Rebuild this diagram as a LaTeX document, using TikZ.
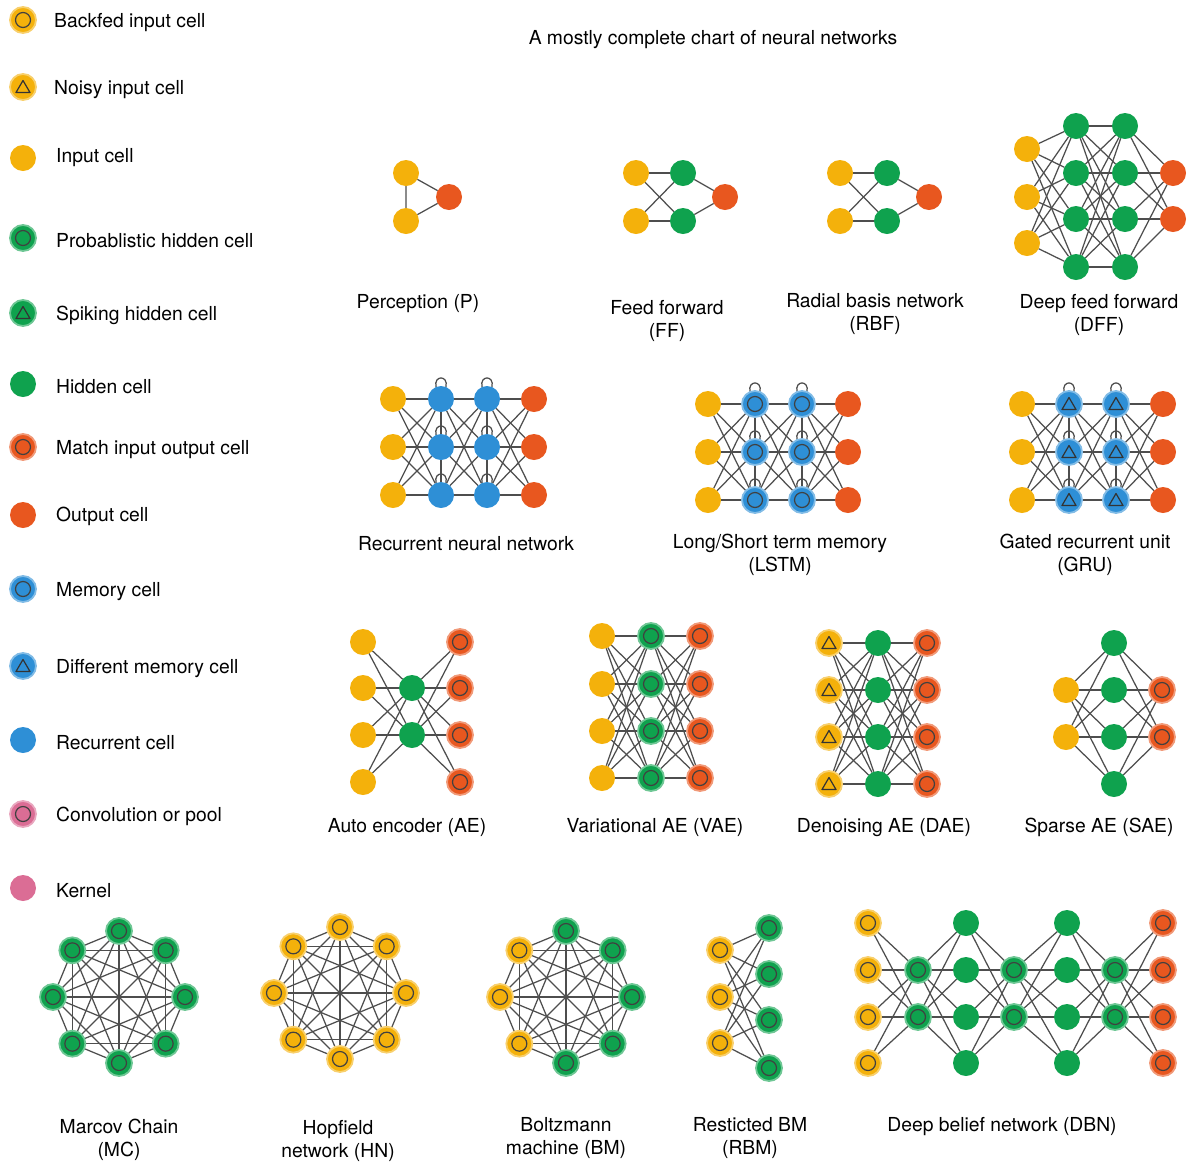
\documentclass[tikz,border=0pt]{standalone}
\usepackage{fontspec}
\setmainfont{TeX Gyre Heros}
\usetikzlibrary{backgrounds}
\definecolor{cyel}{HTML}{F4B10B}
\definecolor{cgrn}{HTML}{0FA24E}
\definecolor{cred}{HTML}{E8571F}
\definecolor{cblu}{HTML}{2E8FD6}
\definecolor{cpnk}{HTML}{DB6D95}
\definecolor{cedge}{HTML}{4E4E4E}
\tikzset{
  cell/.style={circle, minimum size=26pt, inner sep=0pt, outer sep=0pt},
  inp/.style={cell, fill=cyel},
  hid/.style={cell, fill=cgrn},
  outc/.style={cell, fill=cred},
  rec/.style={cell, fill=cblu},
  kern/.style={cell, fill=cpnk},
  halo/.style={draw=#1!60!white, line width=1.8pt},
  ringmark/.style={path picture={\draw[black!75, line width=1.2pt] (path picture bounding box.center) circle (7.5pt);}},
  trimark/.style={path picture={\draw[black!80, line width=1.2pt, line join=round, shift={(path picture bounding box.center)}] (0pt,6.5pt) -- (-7pt,-5.5pt) -- (7pt,-5.5pt) -- cycle;}},
  backfed/.style={inp, halo=cyel, ringmark},
  noisy/.style={inp, halo=cyel, trimark},
  prob/.style={hid, halo=cgrn, ringmark},
  spike/.style={hid, halo=cgrn, trimark},
  match/.style={outc, halo=cred, ringmark},
  mem/.style={rec, halo=cblu, ringmark},
  dmem/.style={rec, halo=cblu, trimark},
  conv/.style={kern, halo=cpnk, ringmark},
  link/.style={draw=cedge, line width=1.25pt},
  lbl/.style={font=\fontsize{19.3}{23}\selectfont, align=center, inner sep=0pt, yshift=-2.5pt},
  legtext/.style={font=\fontsize{19.3}{23}\selectfont, anchor=west, inner sep=0pt, yshift=-2.5pt},
}
\begin{document}
\begin{tikzpicture}[x=1pt,y=1pt]
\useasboundingbox (0,0) rectangle (1187,-1163);

% ---------- legend ----------
\node[backfed] (lg1) at (23,-20) {};
\node[noisy]   (lg2) at (23,-87) {};
\node[inp]     (lg3) at (23,-158) {};
\node[prob]    (lg4) at (23,-238) {};
\node[spike]   (lg5) at (23,-313) {};
\node[hid]     (lg6) at (23,-384) {};
\node[match]   (lg7) at (23,-447) {};
\node[outc]    (lg8) at (23,-515) {};
\node[mem]     (lg9) at (23,-589) {};
\node[dmem]    (lg10) at (23,-666) {};
\node[rec]     (lg11) at (23,-740) {};
\node[conv]    (lg12) at (23,-814) {};
\node[kern]    (lg13) at (23,-888) {};
\node[legtext] (lt1) at (54,-20) {Backfed input cell};
\node[legtext] (lt2) at (54,-87) {Noisy input cell};
\node[legtext] (lt3) at (56,-155) {Input cell};
\node[legtext] (lt4) at (56,-238) {Probablistic hidden cell};
\node[legtext] (lt5) at (56,-313) {Spiking hidden cell};
\node[legtext] (lt6) at (56,-384) {Hidden cell};
\node[legtext] (lt7) at (56,-447) {Match input output cell};
\node[legtext] (lt8) at (56,-514) {Output cell};
\node[legtext] (lt9) at (56,-589) {Memory cell};
\node[legtext] (lt10) at (56,-666) {Different memory cell};
\node[legtext] (lt11) at (56,-740) {Recurrent cell};
\node[legtext] (lt12) at (56,-814) {Convolution or pool};
\node[legtext] (lt13) at (56,-888) {Kernel};

\node[lbl] (title) at (713,-37) {A mostly complete chart of neural networks};

% ---------- perceptron ----------
\node[inp] (p1) at (406,-173) {};
\node[inp] (p2) at (406,-221) {};
\node[outc] (p3) at (449,-197) {};
\node[lbl] (pl) at (418,-301) {Perception (P)};

% ---------- feed forward ----------
\foreach \r/\y in {1/173,2/221}{
  \node[inp] (ffA\r) at (636,-\y) {};
  \node[hid] (ffB\r) at (683,-\y) {};
  \node[inp] (rbA\r) at (840,-\y) {};
  \node[hid] (rbB\r) at (887,-\y) {};
}
\node[outc] (ffC) at (725,-197) {};
\node[outc] (rbC) at (929,-197) {};
\node[lbl] (ffl) at (667,-318) {Feed forward\\(FF)};
\node[lbl] (rbl) at (875,-312) {Radial basis network\\(RBF)};

% ---------- deep feed forward ----------
\foreach \r/\y in {1/149,2/197,3/243}{ \node[inp] (dfA\r) at (1027,-\y) {}; }
\foreach \r/\y in {1/126,2/173,3/219,4/267}{
  \node[hid] (dfB\r) at (1076,-\y) {};
  \node[hid] (dfC\r) at (1125,-\y) {};
}
\foreach \r/\y in {1/173,2/219}{ \node[outc] (dfD\r) at (1173,-\y) {}; }
\node[lbl] (dfl) at (1099,-312) {Deep feed forward\\(DFF)};

% ---------- recurrent family ----------
\foreach \r/\y in {1/399,2/447,3/495}{
  \node[inp] (rnA\r) at (393,-\y) {};
  \node[rec] (rnB\r) at (441,-\y) {};
  \node[rec] (rnC\r) at (487,-\y) {};
  \node[outc] (rnD\r) at (534,-\y) {};
}
\foreach \r/\y in {1/404,2/452,3/500}{
  \node[inp] (lsA\r) at (708,-\y) {};
  \node[mem] (lsB\r) at (755,-\y) {};
  \node[mem] (lsC\r) at (802,-\y) {};
  \node[outc] (lsD\r) at (848,-\y) {};
  \node[inp] (grA\r) at (1022,-\y) {};
  \node[dmem] (grB\r) at (1069,-\y) {};
  \node[dmem] (grC\r) at (1116,-\y) {};
  \node[outc] (grD\r) at (1163,-\y) {};
}
\node[lbl] (rnl) at (466,-541) {Recurrent neural network};
\node[lbl] (lsl) at (780,-552) {Long/Short term memory\\(LSTM)};
\node[lbl] (grl) at (1085,-552) {Gated recurrent unit\\(GRU)};

% ---------- auto encoders ----------
\foreach \r/\y in {1/642,2/688,3/735,4/782}{
  \node[inp] (aeA\r) at (363,-\y) {};
  \node[match] (aeC\r) at (460,-\y) {};
}
\foreach \r/\y in {1/688,2/735}{ \node[hid] (aeB\r) at (412,-\y) {}; }
\foreach \r/\y in {1/636,2/684,3/731,4/778}{
  \node[inp] (vaA\r) at (602,-\y) {};
  \node[prob] (vaB\r) at (651,-\y) {};
  \node[match] (vaC\r) at (700,-\y) {};
}
\foreach \r/\y in {1/643,2/690,3/737,4/784}{
  \node[noisy] (daA\r) at (829,-\y) {};
  \node[hid] (daB\r) at (878,-\y) {};
  \node[match] (daC\r) at (927,-\y) {};
  \node[hid] (saB\r) at (1114,-\y) {};
}
\foreach \r/\y in {1/690,2/737}{
  \node[inp] (saA\r) at (1066,-\y) {};
  \node[match] (saC\r) at (1162,-\y) {};
}
\node[lbl] (ael) at (407,-825) {Auto encoder (AE)};
\node[lbl] (val) at (655,-825) {Variational AE (VAE)};
\node[lbl] (dal) at (884,-825) {Denoising AE (DAE)};
\node[lbl] (sal) at (1099,-825) {Sparse AE (SAE)};

% ---------- fully connected rings ----------
\begin{scope}[shift={(119,-997)}]
  \foreach \k in {0,...,7}{ \node[prob] (mc\k) at (90-\k*45:66) {}; }
\end{scope}
\begin{scope}[shift={(340,-993)}]
  \foreach \k in {0,...,7}{ \node[backfed] (hn\k) at (90-\k*45:66) {}; }
\end{scope}
\begin{scope}[shift={(566,-997)}]
  \foreach \k in {0,...,4}{ \node[prob] (bm\k) at (90-\k*45:66) {}; }
  \foreach \k in {5,6,7}{ \node[backfed] (bm\k) at (90-\k*45:66) {}; }
\end{scope}
\node[lbl] (mcl) at (119,-1137) {Marcov Chain\\(MC)};
\node[lbl] (hnl) at (338,-1138) {Hopfield\\network (HN)};
\node[lbl] (bml) at (566,-1135) {Boltzmann\\machine (BM)};

% ---------- restricted Boltzmann machine ----------
\foreach \r/\y in {1/950,2/997,3/1043}{ \node[backfed] (rbmA\r) at (720,-\y) {}; }
\foreach \r/\y in {1/928,2/974,3/1020,4/1068}{ \node[prob] (rbmB\r) at (769,-\y) {}; }
\node[lbl] (rbml) at (750,-1135) {Resticted BM\\(RBM)};

% ---------- deep belief network ----------
\foreach \r/\y in {1/923,2/970,3/1017,4/1063}{
  \node[backfed] (dbA\r) at (868,-\y) {};
  \node[hid] (dbC\r) at (966,-\y) {};
  \node[hid] (dbE\r) at (1067,-\y) {};
  \node[match] (dbG\r) at (1163,-\y) {};
}
\foreach \r/\y in {1/970,2/1017}{
  \node[prob] (dbB\r) at (918,-\y) {};
  \node[prob] (dbD\r) at (1014,-\y) {};
  \node[prob] (dbF\r) at (1115,-\y) {};
}
\node[lbl] (dbl) at (1002,-1124) {Deep belief network (DBN)};

% ---------- connections (behind the cells) ----------
\begin{scope}[on background layer]
  \draw[link] (p1) -- (p3) (p2) -- (p3) (p1) -- (p2);
  \foreach \i in {1,2}{
    \foreach \j in {1,2}{
      \draw[link] (ffA\i) -- (ffB\j);
      \draw[link] (rbA\i) -- (rbB\j);
    }
    \draw[link] (ffB\i) -- (ffC);
    \draw[link] (rbB\i) -- (rbC);
  }
  \foreach \i in {1,...,4}{
    \foreach \j in {1,...,3}{ \draw[link] (dfB\i) -- (dfA\j); }
    \foreach \j in {1,...,4}{ \draw[link] (dfB\i) -- (dfC\j); }
    \foreach \j in {1,2}{ \draw[link] (dfC\i) -- (dfD\j); }
  }
  % recurrent nets
  \foreach \n in {rn,ls,gr}{
    \foreach \i in {1,2,3}{
      \foreach \j in {1,2,3}{
        \draw[link] (\n A\i) -- (\n B\j);
        \draw[link] (\n B\i) -- (\n C\j);
        \draw[link] (\n C\i) -- (\n D\j);
      }
      \draw[link] (\n B\i.112) .. controls +(-3,12) and +(3,12) .. (\n B\i.68);
      \draw[link] (\n C\i.112) .. controls +(-3,12) and +(3,12) .. (\n C\i.68);
    }
    \draw[link] (\n B1) -- (\n B2) -- (\n B3);
    \draw[link] (\n C1) -- (\n C2) -- (\n C3);
  }
  % auto encoders
  \foreach \i in {1,...,4}{
    \foreach \j in {1,2}{
      \draw[link] (aeA\i) -- (aeB\j);
      \draw[link] (aeB\j) -- (aeC\i);
      \draw[link] (saA\j) -- (saB\i);
      \draw[link] (saB\i) -- (saC\j);
    }
    \foreach \j in {1,...,4}{
      \draw[link] (vaA\i) -- (vaB\j);
      \draw[link] (vaB\i) -- (vaC\j);
      \draw[link] (daA\i) -- (daB\j);
      \draw[link] (daB\i) -- (daC\j);
    }
  }
  % complete graphs
  \foreach \a in {0,...,6}{
    \pgfmathtruncatemacro{\bs}{\a+1}
    \foreach \b in {\bs,...,7}{
      \draw[link] (mc\a) -- (mc\b);
      \draw[link] (hn\a) -- (hn\b);
      \draw[link] (bm\a) -- (bm\b);
    }
  }
  % restricted BM
  \foreach \i in {1,2,3}{ \foreach \j in {1,...,4}{ \draw[link] (rbmA\i) -- (rbmB\j); } }
  % deep belief network
  \foreach \i in {1,...,4}{
    \foreach \j in {1,2}{
      \draw[link] (dbA\i) -- (dbB\j);
      \draw[link] (dbB\j) -- (dbC\i);
      \draw[link] (dbC\i) -- (dbD\j);
      \draw[link] (dbD\j) -- (dbE\i);
      \draw[link] (dbE\i) -- (dbF\j);
      \draw[link] (dbF\j) -- (dbG\i);
    }
  }
\end{scope}
\end{tikzpicture}
\end{document}
